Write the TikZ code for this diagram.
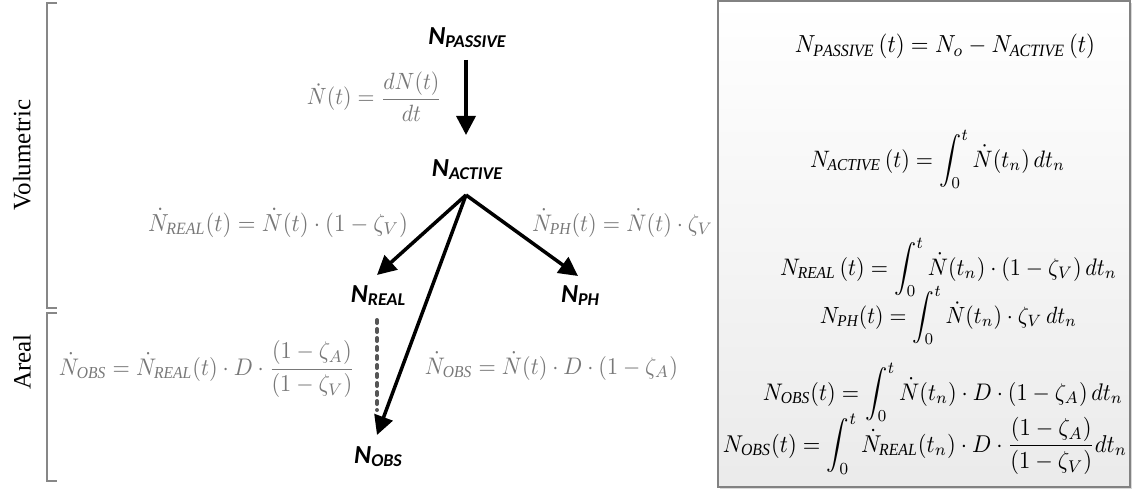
\documentclass[tikz,border=0pt]{standalone}
\usepackage{fontspec}
\setmainfont{Liberation Serif}
\newfontfamily\calib{Carlito}
\usetikzlibrary{arrows.meta,calc}
\definecolor{eqgray}{RGB}{120,120,120}
\definecolor{dashgray}{RGB}{85,85,85}
\definecolor{brkgray}{RGB}{135,135,135}
\definecolor{boxline}{RGB}{130,130,130}
\tikzset{
 lbl/.style={inner sep=0pt, font=\calib\bfseries\itshape\fontsize{26}{30}\selectfont},
 arr/.style={line width=3.5pt, -{Triangle[length=19pt,width=19pt]}},
 dashln/.style={dashgray, line width=4pt, dash pattern=on 3pt off 6pt, line cap=round},
 geq/.style={inner sep=0pt, anchor=base, text=eqgray},
 beq/.style={inner sep=0pt, anchor=base, text=black},
 brk/.style={brkgray, line width=1.3pt},
 side/.style={inner sep=0pt, rotate=90, font=\fontsize{25}{29}\selectfont},
 eqbox/.style={draw=boxline, line width=1.2pt, top color=white, bottom color=black!8},
 boxshadow/.style={fill=black!15, draw=none},
}
\newcommand\Sub[1]{\raisebox{-3pt}{\fontsize{18}{20}\selectfont #1}}
\newcommand\fitw[2]{\scalebox{1}[1.08]{\resizebox{#1pt}{!}{$\displaystyle #2$}}}
\newcommand\s[1]{\mathit{#1}}
\begin{document}
\begin{tikzpicture}[x=1pt,y=-1pt]
\useasboundingbox (0,0) rectangle (1134,492);
% equation box
\fill[boxshadow] (720,3) rectangle (1132,489);
\path[eqbox] (718,1) rectangle (1130,487);
% brackets
\draw[brk] (57,3) -- (47,3) -- (47,308) -- (57,308);
\draw[brk] (57,313) -- (47,313) -- (47,481) -- (57,481);
\node[side] (vol) at (22,155) {Volumetric};
\node[side] (are) at (22,362) {Areal};
% nodes
\node[lbl] (npas) at (467,38) {N\Sub{PASSIVE}};
\node[lbl] (nact) at (467,170) {N\Sub{ACTIVE}};
\node[lbl] (nreal) at (378,296) {N\Sub{REAL}};
\node[lbl] (nph) at (580,296) {N\Sub{PH}};
\node[lbl] (nobs) at (378,457) {N\Sub{OBS}};
% connectors
\draw[arr] ($(npas.center)+(-1,22)$) -- ($(nact.center)+(-1,-35)$);
\draw[arr] ($(nact.center)+(-1,25)$) -- ($(nreal.center)+(-1,-21)$);
\draw[arr] ($(nact.center)+(-1,25)$) -- ($(nph.center)+(-2,-20)$);
\draw[arr] ($(nact.center)+(-1,25)$) -- ($(nobs.center)+(-1,-22)$);
\draw[dashln] ($(nreal.center)+(-1,24)$) -- ($(nobs.center)+(-1,-47)$);
% gray rate equations
\node[geq] (e1) at (374.5,105) {\fitw{135}{\dot N(t)=\frac{dN(t)}{dt}}};
\node[geq] (e2) at (278,231) {\fitw{260}{\dot N_{\s{REAL}}(t)=\dot N(t)\cdot(1-\zeta_V)}};
\node[geq] (e3) at (622.5,231) {\fitw{181}{\dot N_{\s{PH}}(t)=\dot N(t)\cdot\zeta_V}};
\node[geq] (e4) at (207,375) {\fitw{296}{\dot N_{\s{OBS}}=\dot N_{\s{REAL}}(t)\cdot D\cdot\frac{(1-\zeta_A)}{(1-\zeta_V)}}};
\node[geq] (e5) at (551.5,374) {\fitw{253}{\dot N_{\s{OBS}}=\dot N(t)\cdot D\cdot(1-\zeta_A)}};
% box equations
\node[beq] (b1) at (945,53) {\fitw{300}{N_{\s{PASSIVE}}\,(t)=N_o-N_{\s{ACTIVE}}\,(t)}};
\node[beq] (b2) at (937.5,167) {\fitw{255}{N_{\s{ACTIVE}}\,(t)=\int_0^t\dot N(t_n)\,dt_n}};
\node[beq] (b3) at (948.5,275) {\fitw{337}{N_{\s{REAL}}\,(t)=\int_0^t\dot N(t_n)\cdot(1-\zeta_V)\,dt_n}};
\node[beq] (b4) at (948.5,323) {\fitw{257}{N_{\s{PH}}(t)=\int_0^t\dot N(t_n)\cdot\zeta_V\,dt_n}};
\node[beq] (b5) at (943,400) {\fitw{360}{N_{\s{OBS}}(t)=\int_0^t\dot N(t_n)\cdot D\cdot(1-\zeta_A)\,dt_n}};
\node[beq] (b6) at (925,452) {\fitw{404}{N_{\s{OBS}}(t)=\int_0^t\dot N_{\s{REAL}}(t_n)\cdot D\cdot\frac{(1-\zeta_A)}{(1-\zeta_V)}dt_n}};
\end{tikzpicture}
\end{document}
